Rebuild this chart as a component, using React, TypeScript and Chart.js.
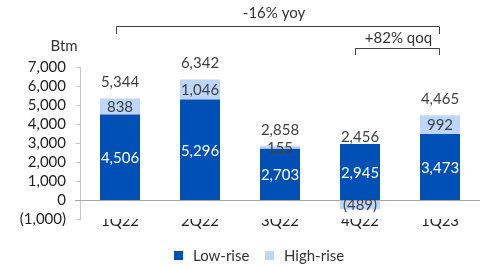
import React, { useEffect, useRef } from "react";
import { Chart, registerables } from "chart.js";

Chart.register(...registerables);

const categories = ["1Q22", "2Q22", "3Q22", "4Q22", "1Q23"];
const lowRise = [4506, 5296, 2703, 2945, 3473];
const highRise = [838, 1046, 155, -489, 992];
const totals = [5344, 6342, 2858, 2456, 4465];
const seriesNames = ["Low-rise", "High-rise"];
const yMin = -1000;
const yMax = 7000;
const yStep = 1000;
const unitLabel = "Btm";
const yoyLabel = "-16% yoy";
const qoqLabel = "+82% qoq";

const DARK = "#0050B5";
const LIGHT = "#BDD6FC";
const FONT = "Lato";
const TEXT = "#333333";
const LABEL = "#404040";
const AXIS_TEXT = "#1f1f1f";

const fmt = (v: number) => {
  const s = Math.abs(v).toLocaleString("en-US");
  return v < 0 ? `(${s})` : s;
};

const overlay = {
  id: "overlay",
  afterDatasetsDraw(chart: any) {
    const ctx = chart.ctx as CanvasRenderingContext2D;
    const x = chart.scales.x;
    const y = chart.scales.y;
    const area = chart.chartArea;
    ctx.save();
    // y axis line, tick marks and tick labels
    const ax = Math.round(area.left) + 0.5;
    ctx.strokeStyle = "#C8C8C8";
    ctx.lineWidth = 1;
    ctx.beginPath();
    ctx.moveTo(ax, Math.round(y.getPixelForValue(yMax)));
    ctx.lineTo(ax, Math.round(y.getPixelForValue(yMin)) + 1);
    y.ticks.forEach((t: any) => {
      const ty = Math.round(y.getPixelForValue(t.value)) + 0.5;
      ctx.moveTo(ax - 5, ty);
      ctx.lineTo(ax, ty);
    });
    ctx.stroke();
    ctx.font = `15px ${FONT}`;
    ctx.textAlign = "right";
    ctx.textBaseline = "middle";
    ctx.fillStyle = AXIS_TEXT;
    y.ticks.forEach((t: any) => {
      ctx.fillText(fmt(t.value), area.left - 14, y.getPixelForValue(t.value));
    });
    // zero line on top of bars
    const zy = Math.round(y.getPixelForValue(0)) + 0.5;
    ctx.strokeStyle = "#A6A6A6";
    ctx.beginPath();
    ctx.moveTo(area.left - 5, zy);
    ctx.lineTo(area.right, zy);
    ctx.stroke();

    ctx.textAlign = "center";
    // segment labels
    chart.data.datasets.forEach((ds: any, di: number) => {
      const meta = chart.getDatasetMeta(di);
      meta.data.forEach((el: any, i: number) => {
        const v = ds.data[i];
        const cy = (el.y + el.base) / 2;
        ctx.fillStyle = di === 0 ? "#FFFFFF" : LABEL;
        ctx.fillText(fmt(v), el.x, cy + 1);
      });
    });
    // totals
    ctx.fillStyle = LABEL;
    totals.forEach((t, i) => {
      ctx.fillText(fmt(t), x.getPixelForValue(i), y.getPixelForValue(t) - 16);
    });
    // unit label
    ctx.fillStyle = TEXT;
    ctx.fillText(unitLabel, 64, 46);
    // brackets
    ctx.strokeStyle = "#404040";
    ctx.lineWidth = 1;
    const bracket = (x1: number, x2: number, top: number, bottom: number) => {
      ctx.beginPath();
      ctx.moveTo(x1, bottom);
      ctx.lineTo(x1, top);
      ctx.lineTo(x2, top);
      ctx.lineTo(x2, bottom);
      ctx.stroke();
    };
    const xa = Math.round(x.getPixelForValue(0)) - 3.5;
    const xb = Math.round(x.getPixelForValue(4)) - 0.5;
    const xc = Math.round(x.getPixelForValue(3)) - 4.5;
    bracket(xa, xb, 26.5, 34);
    bracket(xc, xb, 48.5, 55);
    ctx.fillStyle = TEXT;
    ctx.fillText(yoyLabel, (xa + xb) / 2 - 4, 13);
    ctx.fillText(qoqLabel, (xc + xb) / 2 + 1, 38);
    // legend
    const items = [
      { name: seriesNames[0], color: DARK, sx: 174 },
      { name: seriesNames[1], color: LIGHT, sx: 265 },
    ];
    ctx.textAlign = "left";
    items.forEach((it) => {
      ctx.fillStyle = it.color;
      ctx.fillRect(it.sx, 251, 9, 9);
      ctx.fillStyle = TEXT;
      ctx.fillText(it.name, it.sx + 19, 256);
    });
    ctx.restore();
  },
};

export default function App() {
  const ref = useRef<HTMLCanvasElement | null>(null);
  useEffect(() => {
    if (!ref.current) return;
    const chart = new Chart(ref.current, {
      type: "bar",
      data: {
        labels: categories,
        datasets: [
          { label: seriesNames[0], data: lowRise, backgroundColor: DARK, borderWidth: 0 },
          { label: seriesNames[1], data: highRise, backgroundColor: LIGHT, borderWidth: 0 },
        ],
      },
      options: {
        responsive: false,
        animation: false,
        datasets: { bar: { categoryPercentage: 1, barPercentage: 0.5 } },
        layout: { padding: { top: 67, right: 6, left: 80, bottom: 0 } },
        plugins: { legend: { display: false }, tooltip: { enabled: false } },
        scales: {
          x: {
            stacked: true,
            grid: { display: false, drawTicks: false },
            border: { display: false },
            ticks: { color: AXIS_TEXT, font: { family: FONT, size: 15 }, padding: -7 },
            afterFit: (s: any) => {
              s.height = 48;
            },
          },
          y: {
            display: false,
            stacked: true,
            min: yMin,
            max: yMax,
            ticks: { stepSize: yStep, autoSkip: false },
          },
        },
      },
      plugins: [overlay],
    });
    return () => chart.destroy();
  }, []);
  return (
    <div style={{ position: "absolute", left: 0, top: 0, width: 486, height: 267, background: "#fff" }}>
      <canvas ref={ref} width={486} height={267} />
    </div>
  );
}
